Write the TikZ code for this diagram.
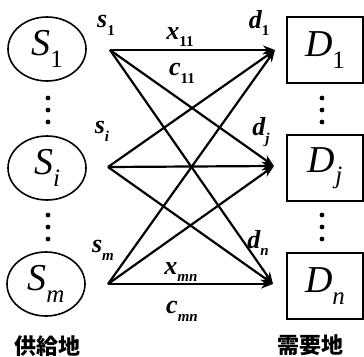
\documentclass[tikz,border=0pt]{standalone}
\usepackage{fontspec}
\setmainfont{Liberation Serif}
\usetikzlibrary{shapes.geometric,arrows.meta}
\newfontfamily\cjk{Noto Sans CJK JP}
\newcommand\nsub[1]{\raisebox{-0.3em}{\fontsize{25}{27}\selectfont #1}}
\newcommand\lsub[1]{\raisebox{-0.3em}{\fontsize{15}{17}\selectfont #1}}
\begin{document}
\begin{tikzpicture}[x=1pt,y=-1pt,
  src/.style={draw,ellipse,line width=1.6pt,minimum width=78pt,minimum height=64pt,inner sep=0pt,font=\fontsize{38}{42}\selectfont\itshape},
  dst/.style={draw,rectangle,line width=1.6pt,minimum width=76pt,minimum height=66pt,inner sep=0pt,font=\fontsize{38}{42}\selectfont\itshape},
  lbl/.style={font=\fontsize{26}{29}\selectfont\bfseries\itshape,inner sep=0pt},
  flow/.style={line width=2.2pt,-{Stealth[length=12pt,width=9pt]}},
  captext/.style={font=\cjk\bfseries\fontsize{22}{26}\selectfont,inner sep=0pt}]
\useasboundingbox (0,0) rectangle (364,356);
% sources
\node[src] (S1) at (47,49) {S\nsub{\upshape 1}};
\node[src] (Si) at (47,168) {S\nsub{i}};
\node[src] (Sm) at (46,284) {S\nsub{m}};
% destinations
\node[dst] (D1) at (325,50) {D\nsub{\upshape 1}};
\node[dst] (Dj) at (325,168) {D\nsub{j}};
\node[dst] (Dn) at (325,286) {D\nsub{n}};
% dots
\foreach \y in {98,110,122,215,227,239}{
  \fill (48,\y) circle (2.4pt);
  \fill (322,\y) circle (2.4pt);
}
% endpoints
\coordinate (a1) at (110,50);
\coordinate (ai) at (108,167);
\coordinate (am) at (108,284);
\coordinate (b1) at (275,50);
\coordinate (bj) at (274,166);
\coordinate (bn) at (273,284);
% flows
\foreach \a in {a1,ai,am}{
  \foreach \b in {b1,bj,bn}{
    \draw[flow] (\a) -- (\b);
  }
}
% labels
\node[lbl] (ls1) at (106,25) {s\lsub{\upshape 1}};
\node[lbl] (lsi) at (102,131) {s\lsub{i}};
\node[lbl] (lsm) at (103,250) {s\lsub{m}};
\node[lbl] (ld1) at (259,23) {d\lsub{\upshape 1}};
\node[lbl] (ldj) at (261,132) {d\lsub{j}};
\node[lbl] (ldn) at (258,243) {d\lsub{n}};
\node[lbl] (lx11) at (180,37) {x\lsub{\upshape 11}};
\node[lbl] (lc11) at (182,73) {c\lsub{\upshape 11}};
\node[lbl] (lxmn) at (181,272) {x\lsub{mn}};
\node[lbl] (lcmn) at (182,311) {c\lsub{mn}};
% captions
\node[captext] (cs) at (47,346) {供給地};
\node[captext] (cd) at (310,345) {需要地};
\end{tikzpicture}
\end{document}
